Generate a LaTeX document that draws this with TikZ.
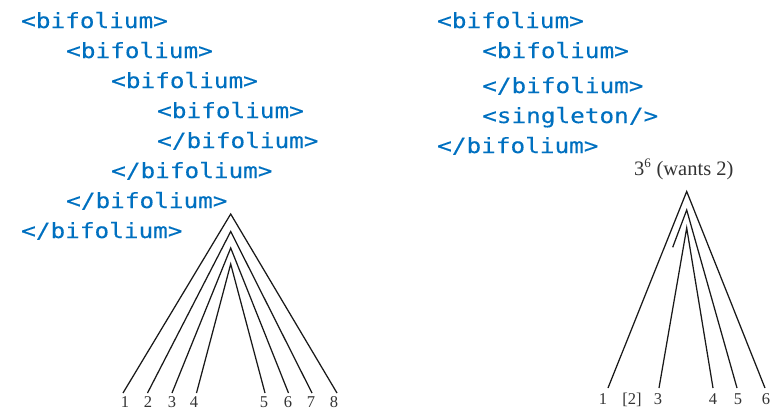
\documentclass[tikz,border=0pt]{standalone}
\usepackage{fontspec}
\setmainfont{Liberation Serif}
\newfontfamily\xmlfont[FakeStretch=1.16,FakeBold=0.15]{DejaVu Sans Mono}
\definecolor{xmlblue}{RGB}{0,112,192}
\tikzset{
  xml/.style={anchor=base west, inner sep=0pt, text=xmlblue, font=\xmlfont\fontsize{21}{21}\selectfont},
  leaf/.style={anchor=base, inner sep=0pt, text=black!80, font=\fontsize{16.5}{16.5}\selectfont},
  branch/.style={line width=1.25pt, black!90},
}
\begin{document}
\begin{tikzpicture}[x=1pt, y=-1pt]
\useasboundingbox (0,0) rectangle (772,410);

% nested bifolium markup (left)
\node[xml] (l1) at (21,28) {<bifolium>};
\node[xml] (l2) at (66,58) {<bifolium>};
\node[xml] (l3) at (111,88) {<bifolium>};
\node[xml] (l4) at (157,118) {<bifolium>};
\node[xml] (l5) at (157,148) {</bifolium>};
\node[xml] (l6) at (111,178) {</bifolium>};
\node[xml] (l7) at (66,208) {</bifolium>};
\node[xml] (l8) at (21,238) {</bifolium>};

% markup with a singleton (right)
\node[xml] (r1) at (437,28) {<bifolium>};
\node[xml] (r2) at (482,58) {<bifolium>};
\node[xml] (r3) at (482,93) {</bifolium>};
\node[xml] (r4) at (482,123) {<singleton/>};
\node[xml] (r5) at (437,153) {</bifolium>};

% left tree: four nested bifolia, leaves 1--8
\coordinate (a1) at (230.7,214);
\coordinate (a2) at (230.7,231.5);
\coordinate (a3) at (230.7,248);
\coordinate (a4) at (230.7,264);
\foreach \i/\x in {1/123,2/147.5,3/172,4/196.5,5/265,6/288.5,7/312,8/337}{
  \coordinate (e\i) at (\x,393);
}
\foreach \i/\x in {1/125,2/148,3/172,4/194,5/264,6/288,7/311,8/334}{
  \node[leaf] (n\i) at (\x,407) {\i};
}
\draw[branch] (e1) -- (a1) -- (e8);
\draw[branch] (e2) -- (a2) -- (e7);
\draw[branch] (e3) -- (a3) -- (e6);
\draw[branch] (e4) -- (a4) -- (e5);

% right tree: gathering of three sheets, one wanting
\node[anchor=base west, inner sep=0pt, text=black!80, font=\fontsize{20.5}{20.5}\selectfont] (q) at (634,175) {3\textsuperscript{\fontsize{13}{13}\selectfont 6} (wants 2)};
\coordinate (b1) at (686.7,191.5);
\coordinate (b2) at (686.7,210);
\coordinate (b3) at (686.7,228);
\coordinate (f1) at (608,388);
\coordinate (stub) at (672.7,247.3);
\coordinate (f3) at (659,388);
\coordinate (f4) at (713,388);
\coordinate (f5) at (737,388);
\coordinate (f6) at (765,388);
\node[leaf] (m1) at (603,404) {1};
\node[leaf] (m2) at (632,404) {[2]};
\node[leaf] (m3) at (658,404) {3};
\node[leaf] (m4) at (713,404) {4};
\node[leaf] (m5) at (738,404) {5};
\node[leaf] (m6) at (766,404) {6};
\draw[branch] (f1) -- (b1) -- (f6);
\draw[branch] (stub) -- (b2) -- (f5);
\draw[branch] (f3) -- (b3) -- (f4);
\end{tikzpicture}
\end{document}
